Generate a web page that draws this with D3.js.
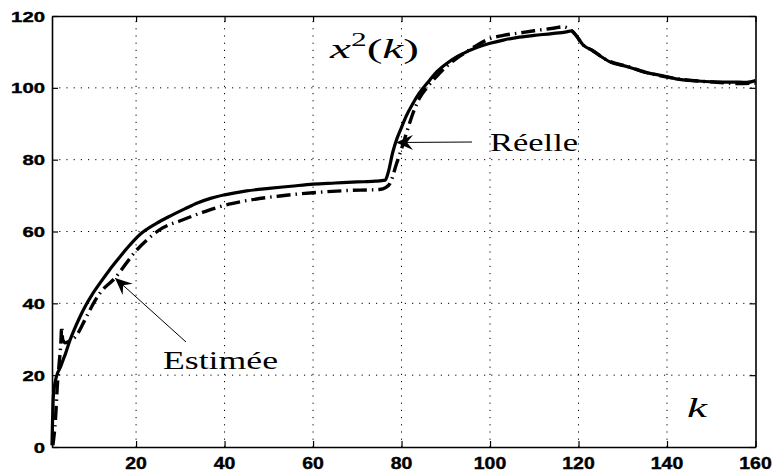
<!DOCTYPE html>
<html><head><meta charset="utf-8">
<script src="https://cdn.jsdelivr.net/npm/d3@7"></script>
<style>html,body{margin:0;padding:0;background:#fff;}svg{display:block;}</style>
</head><body>
<script>
// ---- data ----
const reelleK = [1,1.3,1.7,2.1,3,3.5,4,5,6,7.3,8.8,10,12,14,16,18,21,24.5,28,31,34,37,40,45,50,55,60,65,70,74,76.3,77,78,79,80,81,82.6,84,86.4,88,90.2,92,94,97,100,103,106,110,114,117.3,118.5,119.5,121,123.3,125,127,131,134.6,140,142,147,152,156.5,158,160];
const reelleV = [0.5,14,18,20,22.5,24.2,25.8,29.5,32.6,36.2,39.8,42.3,45.9,49.3,52.4,55.4,59.3,62.2,64.5,66.3,68,69.3,70.2,71.3,72,72.6,73.2,73.5,73.8,74,74.3,76.5,82,86,89,92,95.7,98.5,102.2,104.5,106.8,108.3,109.6,111.2,112.4,113.3,114,114.6,115.1,115.6,115.9,114.5,112,110.3,108.8,107.3,105.9,104.5,103.1,102.5,101.9,101.6,101.6,101.5,102];
const estimK = [1.2,1.8,2.2,2.6,3.0,3.2,3.4,4,5,6.5,8,9.2,11.8,15.2,20.1,22.4,26,30,35,41,46,52.5,60,67.6,75,76.5,77.4,78.9,79.6,81,82.6,84,86,88,90,92,94,97,99.2,103,106.8,110,114.3,116.5,118,119.5,121,123,125,127,131,135,140,147,152,156,160];
const estimV = [0.5,8,17,23,29,33.5,30,29,29.5,31,34.3,37.3,42.8,47,54.8,57.6,61,63,65.3,67.6,68.8,69.9,70.8,71.4,71.7,72.3,73.4,79,81.5,87,93,97,100.5,103.3,105.8,107.8,109.5,111.8,113.3,114.6,115.3,115.9,116.6,117,116.3,114.5,112,110.5,108.8,107.4,106,104.4,103,101.9,101.5,101.2,101.3];
const xTicks = [20,40,60,80,100,120,140,160];
const yTicks = [0,20,40,60,80,100,120];
const xLabels = ["20","40","60","80","100","120","140","160"];
const yLabels = ["0","20","40","60","80","100","120"];

const W = 774, H = 474;
const svg = d3.select("body").append("svg").attr("width", W).attr("height", H);
const x = d3.scaleLinear().domain([1,160]).range([52,755.5]);
const y = d3.scaleLinear().domain([0,120]).range([447,16]);

// grid
const grid = svg.append("g").attr("stroke","#000").attr("stroke-width",1).attr("stroke-dasharray","1.2,6");
grid.selectAll(".gx").data(xTicks.filter(t=>t<160)).join("line")
  .attr("x1",d=>x(d)).attr("x2",d=>x(d)).attr("y1",y(0)).attr("y2",y(120));
grid.selectAll(".gy").data(yTicks.filter(t=>t>0&&t<120)).join("line")
  .attr("y1",d=>y(d)).attr("y2",d=>y(d)).attr("x1",x(1)).attr("x2",x(160));

// axes with inward ticks
const tl = 6;
const axB = svg.append("g").attr("transform",`translate(0,${y(0)})`)
  .call(d3.axisBottom(x).tickValues(xTicks).tickSizeInner(-tl).tickSizeOuter(0).tickFormat(""));
const axT = svg.append("g").attr("transform",`translate(0,${y(120)})`)
  .call(d3.axisTop(x).tickValues(xTicks).tickSizeInner(-tl).tickSizeOuter(0).tickFormat(""));
const axL = svg.append("g").attr("transform",`translate(${x(1)},0)`)
  .call(d3.axisLeft(y).tickValues(yTicks).tickSizeInner(-tl).tickSizeOuter(0).tickFormat(""));
const axR = svg.append("g").attr("transform",`translate(${x(160)},0)`)
  .call(d3.axisRight(y).tickValues(yTicks).tickSizeInner(-tl).tickSizeOuter(0).tickFormat(""));
[axB,axT,axL,axR].forEach(a=>{
  a.selectAll(".domain").attr("stroke","#000").attr("stroke-width",1.6);
  a.selectAll(".tick line").attr("stroke","#000").attr("stroke-width",1.2);
});

// tick labels
const lab = svg.append("g").attr("font-family","'Liberation Sans',Arial,sans-serif").attr("font-weight","bold").attr("fill","#000")
  .attr("stroke","#000").attr("stroke-width",0.4);
lab.selectAll(".xl").data(xTicks).join("text")
  .attr("x",d=>x(d)).attr("y",468.5).attr("text-anchor","middle").attr("font-size",16)
  .attr("textLength",(d,i)=>xLabels[i].length*10.8).attr("lengthAdjust","spacingAndGlyphs")
  .text((d,i)=>xLabels[i]);
lab.selectAll(".yl").data(yTicks).join("text")
  .attr("x",45).attr("y",d=>y(d)+5.6).attr("text-anchor","end").attr("font-size",15.5)
  .attr("textLength",(d,i)=>yLabels[i].length*11.3).attr("lengthAdjust","spacingAndGlyphs")
  .text((d,i)=>yLabels[i]);

// lines
const line = d3.line().curve(d3.curveMonotoneX);
svg.append("path")
  .attr("d", line(estimK.map((k,i)=>[x(k),y(estimV[i])])))
  .attr("fill","none").attr("stroke","#000").attr("stroke-width",3.4)
  .attr("stroke-dasharray","14,5,1.5,5");
svg.append("path")
  .attr("d", line(reelleK.map((k,i)=>[x(k),y(reelleV[i])])))
  .attr("fill","none").attr("stroke","#000").attr("stroke-width",3.2).attr("stroke-linejoin","round");

// arrows
function arrow(x1,y1,x2,y2){ // from tail (x1,y1) to tip (x2,y2)
  svg.append("line").attr("x1",x1).attr("y1",y1).attr("x2",x2).attr("y2",y2)
    .attr("stroke","#000").attr("stroke-width",1);
  const dx=x2-x1, dy=y2-y1, L=Math.hypot(dx,dy), ux=dx/L, uy=dy/L, px=-uy, py=ux;
  const hl=17, hw=7.5, nb=11;
  const p=[[x2,y2],[x2-ux*hl+px*hw,y2-uy*hl+py*hw],[x2-ux*nb,y2-uy*nb],[x2-ux*hl-px*hw,y2-uy*hl-py*hw]];
  svg.append("path").attr("d","M"+p.map(q=>q.join(",")).join("L")+"Z").attr("fill","#000");
}
arrow(472,142,396,142.5);
arrow(186,342,115,278);

// texts
const serif = "'Liberation Serif','DejaVu Serif',serif";
function txt(str,xx,yy,size,style,len){
  return svg.append("text").attr("x",xx).attr("y",yy).attr("font-family",serif)
    .attr("font-size",size).attr("font-style",style)
    .attr("textLength",len).attr("lengthAdjust","spacingAndGlyphs").text(str);
}
txt("Réelle",490,150.5,25,"normal",88);
txt("Estimée",163,369,25,"normal",115);
txt("k",687,417,27,"italic",20);
const t = svg.append("text").attr("x",330).attr("y",58).attr("font-family",serif).attr("font-size",27);
t.append("tspan").attr("font-style","italic").text("x");
t.append("tspan").attr("font-size",18).attr("dy",-12).text("2");
t.append("tspan").attr("dy",12).text("(");
t.append("tspan").attr("font-style","italic").text("k");
t.append("tspan").text(")");
t.attr("textLength",89).attr("lengthAdjust","spacingAndGlyphs");
</script>
</body></html>
